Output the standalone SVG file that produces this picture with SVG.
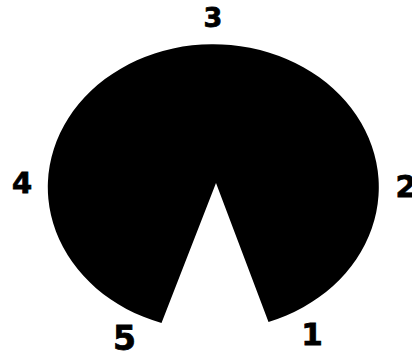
<svg xmlns="http://www.w3.org/2000/svg" width="412" height="354" viewBox="0 0 412 354">
<style>
.lbl{font-family:"DejaVu Sans","Liberation Sans",sans-serif;font-weight:bold;fill:#000;stroke:#000;stroke-width:0.8;text-anchor:middle}
</style>
<rect width="412" height="354" fill="#fff"/>
<g id="shape">
<path d="M216,183 L161.5,323 A165.5,143 0 1 1 268.5,322 Z" fill="#000"/>
</g>
<g id="labels">
<text class="lbl" x="213" y="27" font-size="27">3</text>
<text class="lbl" x="22" y="193" font-size="29">4</text>
<text class="lbl" x="406" y="197" font-size="30">2</text>
<text class="lbl" x="124.5" y="350" font-size="33">5</text>
<text class="lbl" x="312" y="345" font-size="31">1</text>
</g>
</svg>
